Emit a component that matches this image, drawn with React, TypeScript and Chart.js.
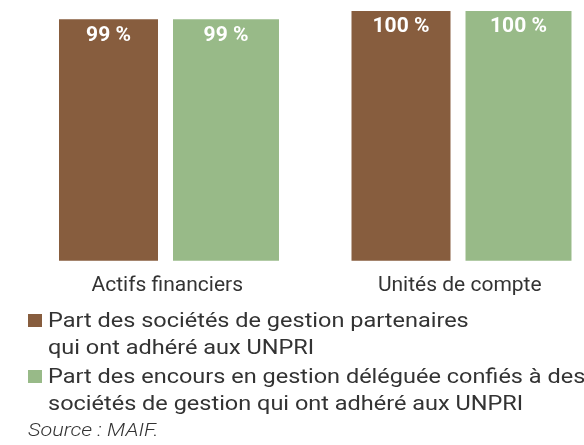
import React, { useEffect, useRef } from "react";
import { Chart, registerables } from "chart.js";

Chart.register(...registerables);

const categories: string[] = ["Actifs financiers", "Unités de compte"];
const partSocietes: number[] = [99, 100];
const partEncours: number[] = [99, 100];
const seriesLabels: string[] = [
  "Part des sociétés de gestion partenaires\nqui ont adhéré aux UNPRI",
  "Part des encours en gestion déléguée confiés à des\nsociétés de gestion qui ont adhéré aux UNPRI",
];
const sourceText = "Source : MAIF.";
const BROWN = "#875D3E";
const GREEN = "#98BA88";
const TEXT = "#333333";

const valueLabels = {
  id: "valueLabels",
  afterDatasetsDraw(chart: any) {
    const ctx = chart.ctx;
    ctx.save();
    ctx.fillStyle = "#ffffff";
    ctx.font = "bold 21px Roboto";
    ctx.textAlign = "center";
    ctx.textBaseline = "middle";
    chart.data.datasets.forEach((ds: any, di: number) => {
      const meta = chart.getDatasetMeta(di);
      meta.data.forEach((bar: any, i: number) => {
        const v = ds.data[i].y;
        ctx.fillText(`${v} %`, bar.x, bar.y + 16);
      });
    });
    ctx.restore();
  },
};

export default function App() {
  const ref = useRef<HTMLCanvasElement | null>(null);
  useEffect(() => {
    document.body.style.margin = "0";
    const chart = new Chart(ref.current as HTMLCanvasElement, {
      type: "bar",
      data: {
        datasets: [
          {
            label: seriesLabels[0],
            data: partSocietes.map((v, i) => ({ x: i, y: v })),
            backgroundColor: BROWN,
            categoryPercentage: 0.8034,
            barPercentage: 0.8426,
          },
          {
            label: seriesLabels[1],
            data: partEncours.map((v, i) => ({ x: i, y: v })),
            backgroundColor: GREEN,
            categoryPercentage: 0.8034,
            barPercentage: 0.902,
          },
        ] as any,
      },
      options: {
        animation: false,
        responsive: true,
        maintainAspectRatio: false,
        layout: { padding: { left: 6.375, right: 7.25, top: 11, bottom: 0 } },
        plugins: { legend: { display: false }, tooltip: { enabled: false } },
        scales: {
          x: {
            type: "linear",
            min: -0.55,
            max: 1.4,
            offset: false,
            grid: { display: false, drawTicks: false },
            border: { display: false },
            afterBuildTicks: (scale: any) => {
              scale.ticks = categories.map((_, i) => ({ value: i }));
            },
            ticks: {
              autoSkip: false,
              maxRotation: 0,
              padding: 12,
              color: TEXT,
              font: { family: "Roboto", size: 21 },
              callback: (v: any) => categories[v] ?? "",
            },
          },
          y: {
            display: false,
            min: 70,
            max: 100,
          },
        },
      } as any,
      plugins: [valueLabels],
    });
    return () => chart.destroy();
  }, []);

  const item = (color: string, text: string) => (
    <div style={{ display: "flex", alignItems: "flex-start", marginBottom: 2, height: 54 }}>
      <span
        style={{
          display: "inline-block",
          width: 14,
          height: 13,
          background: color,
          marginTop: 7,
          marginRight: 6,
          flex: "0 0 auto",
        }}
      />
      <span
        style={{
          display: "inline-block",
          lineHeight: "27px",
          whiteSpace: "pre",
          transform: "scaleX(1.175)",
          transformOrigin: "0 0",
        }}
      >
        {text}
      </span>
    </div>
  );

  return (
    <div style={{ width: 584, height: 445, fontFamily: "Roboto", color: TEXT, overflow: "hidden" }}>
      <div style={{ position: "relative", width: 584, height: 310 }}>
        <canvas ref={ref} />
      </div>
      <div style={{ paddingLeft: 28, marginTop: -3, fontSize: 20, fontWeight: 400 }}>
        {item(BROWN, seriesLabels[0])}
        {item(GREEN, seriesLabels[1])}
        <div
          style={{
            fontStyle: "italic",
            fontSize: 18,
            fontWeight: 300,
            lineHeight: "22px",
            transform: "scaleX(1.2)",
            transformOrigin: "0 0",
          }}
        >
          {sourceText}
        </div>
      </div>
    </div>
  );
}
